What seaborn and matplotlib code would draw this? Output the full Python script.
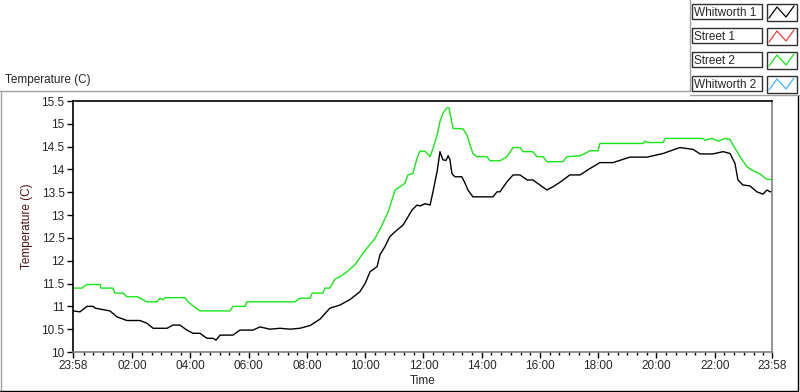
import matplotlib
matplotlib.use("Agg")
import matplotlib.pyplot as plt
import seaborn as sns
import pandas as pd
from matplotlib.lines import Line2D
from matplotlib.patches import Rectangle

# hours elapsed since 23:58 (start of the day-long record)
street2_hours = [0.00, 0.31, 0.41, 0.48, 0.93, 0.96, 1.37, 1.44, 1.72, 1.85, 2.23, 2.30, 2.54, 2.88,
                 2.99, 3.09, 3.16, 3.85, 3.95, 4.19, 4.36, 5.39, 5.49, 5.91, 5.97, 7.62, 7.79, 8.14,
                 8.21, 8.58, 8.65, 8.82, 9.00, 9.17, 9.41, 9.68, 9.85, 10.09, 10.37, 10.61, 10.82,
                 11.06, 11.23, 11.40, 11.50, 11.67, 11.81, 11.91, 12.09, 12.26, 12.36, 12.50, 12.60,
                 12.70, 12.84, 12.91, 12.98, 13.05, 13.39, 13.53, 13.63, 13.73, 13.87, 14.21, 14.32,
                 14.66, 14.90, 15.11, 15.35, 15.45, 15.79, 15.93, 16.14, 16.27, 16.82, 16.96, 17.41,
                 17.58, 17.75, 18.03, 18.09, 19.57, 19.64, 19.74, 20.26, 20.33, 21.63, 21.70, 21.94,
                 22.15, 22.39, 22.56, 22.66, 22.90, 23.14, 23.35, 23.59, 23.83, 24.00]
street2_temp = [11.40, 11.40, 11.45, 11.48, 11.48, 11.40, 11.40, 11.29, 11.29, 11.21, 11.21, 11.18,
                11.10, 11.10, 11.18, 11.14, 11.19, 11.19, 11.10, 10.98, 10.90, 10.90, 11.00, 11.00,
                11.10, 11.10, 11.18, 11.18, 11.29, 11.29, 11.40, 11.40, 11.60, 11.65, 11.76, 11.91,
                12.07, 12.27, 12.49, 12.78, 13.07, 13.55, 13.62, 13.70, 13.88, 13.91, 14.24, 14.40,
                14.40, 14.28, 14.46, 14.75, 15.05, 15.23, 15.35, 15.35, 15.12, 14.90, 14.89, 14.75,
                14.54, 14.35, 14.28, 14.28, 14.19, 14.19, 14.28, 14.48, 14.48, 14.39, 14.39, 14.28,
                14.28, 14.17, 14.17, 14.28, 14.30, 14.35, 14.41, 14.41, 14.57, 14.57, 14.62, 14.59,
                14.59, 14.68, 14.68, 14.64, 14.68, 14.62, 14.68, 14.66, 14.54, 14.28, 14.06, 13.97,
                13.90, 13.78, 13.78]

whitworth1_hours = [0.00, 0.24, 0.48, 0.69, 0.76, 0.93, 1.27, 1.51, 1.85, 2.30, 2.54, 2.75, 3.23,
                    3.43, 3.67, 3.91, 4.12, 4.36, 4.60, 4.81, 4.91, 5.05, 5.49, 5.73, 6.18, 6.42,
                    6.76, 7.11, 7.45, 7.79, 8.14, 8.48, 8.82, 9.17, 9.51, 9.85, 10.03, 10.20, 10.44,
                    10.54, 10.71, 10.88, 11.12, 11.33, 11.50, 11.64, 11.81, 11.91, 12.09, 12.26,
                    12.36, 12.50, 12.60, 12.70, 12.81, 12.88, 12.94, 13.01, 13.11, 13.35, 13.46,
                    13.56, 13.73, 14.42, 14.56, 14.66, 14.90, 15.11, 15.35, 15.59, 15.79, 16.03,
                    16.27, 16.48, 16.72, 17.06, 17.41, 17.75, 18.09, 18.54, 19.12, 19.71, 20.26,
                    20.84, 21.29, 21.53, 21.97, 22.32, 22.56, 22.73, 22.83, 23.00, 23.24, 23.48,
                    23.69, 23.83, 23.93, 24.00]
whitworth1_temp = [10.90, 10.88, 11.00, 11.00, 10.96, 10.94, 10.90, 10.77, 10.69, 10.69, 10.63,
                   10.52, 10.52, 10.59, 10.59, 10.48, 10.41, 10.41, 10.30, 10.30, 10.26, 10.37,
                   10.37, 10.48, 10.48, 10.55, 10.50, 10.52, 10.50, 10.52, 10.58, 10.72, 10.96,
                   11.03, 11.15, 11.32, 11.50, 11.76, 11.87, 12.13, 12.31, 12.53, 12.67, 12.78,
                   12.96, 13.11, 13.22, 13.20, 13.25, 13.22, 13.51, 13.95, 14.39, 14.21, 14.20,
                   14.30, 14.22, 13.91, 13.84, 13.84, 13.70, 13.55, 13.40, 13.40, 13.51, 13.51,
                   13.73, 13.88, 13.88, 13.77, 13.77, 13.66, 13.55, 13.62, 13.72, 13.88, 13.88,
                   14.02, 14.15, 14.15, 14.27, 14.27, 14.35, 14.48, 14.44, 14.34, 14.34, 14.39,
                   14.35, 14.13, 13.77, 13.66, 13.64, 13.51, 13.46, 13.55, 13.51, 13.52]

series_names = ["Whitworth 1", "Street 1", "Street 2", "Whitworth 2"]
series_colors = ["#000000", "#f04040", "#16e816", "#40b4ff"]

tick_hours = [0, 2.033, 4.033, 6.033, 8.033, 10.033, 12.033, 14.033, 16.033, 18.033, 20.033, 22.033, 24]
tick_labels = ["23:58", "02:00", "04:00", "06:00", "08:00", "10:00", "12:00", "14:00",
               "16:00", "18:00", "20:00", "22:00", "23:58"]
y_ticks = [10, 10.5, 11, 11.5, 12, 12.5, 13, 13.5, 14, 14.5, 15, 15.5]

sns.set_style("white")
plt.rcParams["font.family"] = ["Liberation Sans", "DejaVu Sans"]

W, H = 800, 392
fig = plt.figure(figsize=(W / 100, H / 100), dpi=100)
ax = fig.add_axes([73 / W, 1 - 352 / H, 699 / W, 251 / H])

df_w1 = pd.DataFrame({"hours": whitworth1_hours, "temp": whitworth1_temp})
df_s2 = pd.DataFrame({"hours": street2_hours, "temp": street2_temp})
sns.lineplot(data=df_s2, x="hours", y="temp", ax=ax, color=series_colors[2], lw=1.0, estimator=None)
sns.lineplot(data=df_w1, x="hours", y="temp", ax=ax, color=series_colors[0], lw=1.0, estimator=None)

ax.set_xlim(0, 24)
ax.set_ylim(10, 15.5)
ax.set_xticks(tick_hours)
ax.set_xticklabels(tick_labels)
minor = [m / 3 + 2 / 60 for m in range(0, 72) if m % 6 != 0]
ax.set_xticks([m for m in minor if 0 < m < 24], minor=True)
ax.set_yticks(y_ticks)
ax.set_yticklabels([f"{v:g}" for v in y_ticks])
ax.tick_params(axis="both", which="major", direction="out", length=4, width=1, color="black",
               labelsize=8.5, bottom=True, left=True, pad=2)
ax.tick_params(axis="x", which="minor", direction="out", length=2.5, width=1, color="black", bottom=True)
ax.set_xlabel("Time", fontsize=8.5, labelpad=2)
ax.set_ylabel("Temperature (C)", fontsize=8.5, color="#501010", labelpad=6)
for side in ["left", "top"]:
    ax.spines[side].set_color("black")
    ax.spines[side].set_linewidth(1.2)
for side in ["right", "bottom"]:
    ax.spines[side].set_color("#808080")
    ax.spines[side].set_linewidth(1.2)


def fx(x):
    return x / W


def fy(y):
    return 1 - y / H


def hline(x0, x1, y, color):
    fig.add_artist(Line2D([fx(x0), fx(x1)], [fy(y), fy(y)], color=color, lw=1.0))


def vline(x, y0, y1, color):
    fig.add_artist(Line2D([fx(x), fx(x)], [fy(y0), fy(y1)], color=color, lw=1.0))


# outer panel (sunken frame)
hline(0, 690, 91, "#a0a0a0")
vline(0.5, 91, 392, "#a0a0a0")
hline(0, 798, 390.5, "black")
vline(797.5, 95, 391, "black")
vline(690, 0, 91, "#a0a0a0")
hline(690, 800, 95, "#a0a0a0")

fig.text(fx(5), fy(80), "Temperature (C)", fontsize=8.5, ha="left", va="center")

# legend plates
for i, (name, col) in enumerate(zip(series_names, series_colors)):
    top = 4 + i * 24
    fig.add_artist(Rectangle((fx(692), fy(top + 15)), fx(70), 15 / H, fill=False,
                             edgecolor="#303030", lw=1.0))
    fig.add_artist(Rectangle((fx(767), fy(top + 17)), fx(30), 17 / H, fill=False,
                             edgecolor="#303030", lw=1.0))
    zx = [769, 777, 786, 794]
    zy = [top + 14, top + 3, top + 13, top + 2]
    fig.add_artist(Line2D([fx(v) for v in zx], [fy(v) for v in zy], color=col, lw=0.9))
    fig.text(fx(694), fy(top + 8.5), name, fontsize=8.5, ha="left", va="center")

fig.savefig("out.png", dpi=100)
